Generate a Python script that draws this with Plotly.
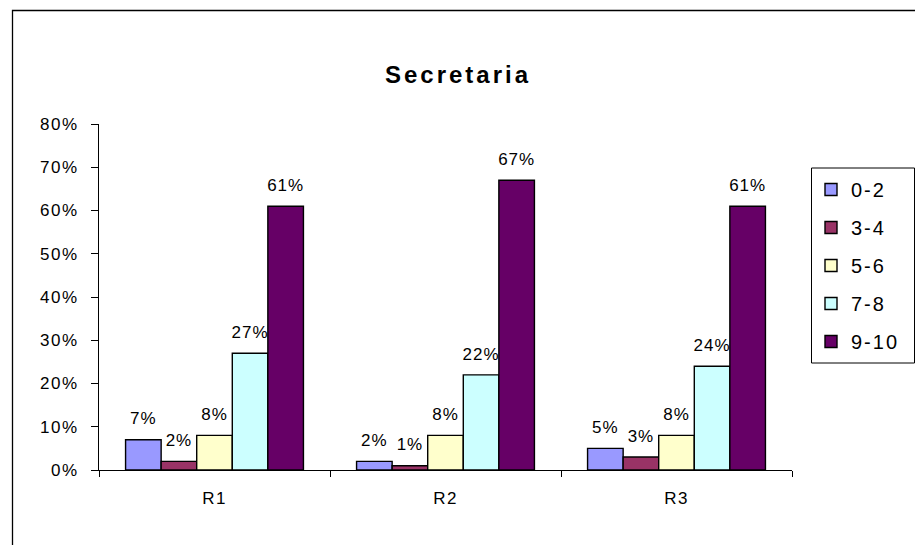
import plotly.graph_objects as go

categories = ["R1", "R2", "R3"]
series_names = ["0-2", "3-4", "5-6", "7-8", "9-10"]
v_0_2 = [0.07, 0.02, 0.05]
v_3_4 = [0.02, 0.01, 0.03]
v_5_6 = [0.08, 0.08, 0.08]
v_7_8 = [0.27, 0.22, 0.24]
v_9_10 = [0.61, 0.67, 0.61]
series_values = [v_0_2, v_3_4, v_5_6, v_7_8, v_9_10]
colors = ["#9999FF", "#993366", "#FFFFCC", "#CCFFFF", "#660066"]
y_ticks = [0, 0.1, 0.2, 0.3, 0.4, 0.5, 0.6, 0.7, 0.8]
title_text = "Secretaria"

FONT = "Arial, Liberation Sans, sans-serif"
GAP = 0.23

fig = go.Figure()
for i, (name, vals, col) in enumerate(zip(series_names, series_values, colors)):
    fig.add_trace(go.Bar(
        x=categories, y=vals, name=name, legendgroup=f"g{i}",
        marker=dict(color=col, line=dict(color="black", width=1.4)),
        hoverinfo="skip",
    ))
# value labels, grouped the same way as the bars
for i, (name, vals) in enumerate(zip(series_names, series_values)):
    fig.add_trace(go.Scatter(
        x=categories, y=vals, mode="markers+text", showlegend=False,
        offsetgroup=f"s{i}", alignmentgroup="lab",
        marker=dict(size=16, opacity=0),
        text=[f"{round(v*100)}%" for v in vals],
        textposition="top center",
        textfont=dict(family=FONT, size=17, color="black"),
        cliponaxis=False, hoverinfo="skip",
    ))

L, R, T, B = 99, 123, 124, 75
W, H = 915, 545
pw = W - L - R
ph = H - T - B

def px_x(x):
    return (x - L) / pw

def px_y(y):
    return (H - B - y) / ph

fig.update_layout(
    width=W, height=H,
    margin=dict(l=L, r=R, t=T, b=B, autoexpand=False),
    paper_bgcolor="white", plot_bgcolor="white",
    barmode="group", bargap=GAP, bargroupgap=0,
    scattermode="group", scattergap=GAP,
    font=dict(family=FONT, color="black"),
    title=dict(text=f"<b>{title_text}</b>", x=458 / W, xanchor="center",
               y=1 - 75 / H, yanchor="middle", xref="container", yref="container",
               font=dict(family=FONT, size=24, color="black")),
    showlegend=True,
    legend=dict(x=px_x(811), y=px_y(170), xanchor="left", yanchor="top",
                borderwidth=0, bgcolor="rgba(0,0,0,0)",
                font=dict(family=FONT, size=20, color="black"),
                tracegroupgap=9, itemwidth=30),
)
fig.update_xaxes(
    showline=True, linecolor="black", linewidth=1,
    ticks="outside", tickson="boundaries", ticklen=6, tickcolor="black",
    ticklabelstandoff=13,
    tickfont=dict(family=FONT, size=17, color="black"),
    showgrid=False, zeroline=False,
)
fig.update_yaxes(
    range=[0, 0.8], tickvals=y_ticks, tickformat=".0%",
    showline=True, linecolor="black", linewidth=1,
    ticks="outside", ticklen=7, tickcolor="black",
    ticklabelstandoff=9,
    tickfont=dict(family=FONT, size=17, color="black"),
    showgrid=False, zeroline=False,
)

# chart area frame (decorative)
fig.add_shape(type="rect", xref="paper", yref="paper",
              x0=px_x(12.5), x1=px_x(930), y0=px_y(560), y1=px_y(10.5),
              line=dict(color="black", width=1.3), fillcolor="rgba(0,0,0,0)", layer="below")
# legend box
fig.add_shape(type="rect", xref="paper", yref="paper",
              x0=px_x(811.5), x1=px_x(914.5), y0=px_y(363), y1=px_y(168),
              line=dict(color="black", width=1), fillcolor="rgba(0,0,0,0)", layer="below")

post = """
document.body.style.margin = '0';
var sp = function(sel, v){ document.querySelectorAll(sel).forEach(function(t){ t.style.letterSpacing = v; }); };
sp('.gtitle', '3px');
sp('.xtick text, .ytick text', '1.5px');
sp('.legendtext', '2px');
sp('.textpoint text', '1px');
"""

fig.write_html("out.html", post_script=post, config={"displayModeBar": False, "staticPlot": True})
